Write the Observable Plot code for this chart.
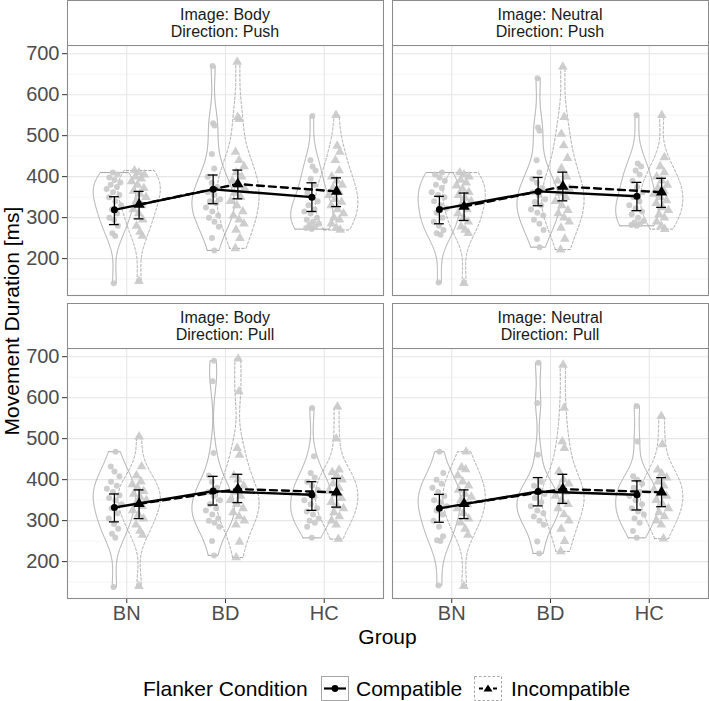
<!DOCTYPE html>
<html><head><meta charset="utf-8">
<script src="https://cdn.jsdelivr.net/npm/d3@7"></script>
<script src="https://cdn.jsdelivr.net/npm/@observablehq/plot@0.6"></script>
<style>
body{margin:0;background:#fff;font-family:"Liberation Sans",Arial,sans-serif;}
#root{position:relative;width:709px;height:701px;overflow:hidden;background:#fff}
.strip{position:absolute;box-sizing:border-box;border:1px solid #8c8c8c;background:#fff;display:flex;align-items:center;justify-content:center;text-align:center;font-size:16px;line-height:17px;color:#1a1a1a}
.pl{position:absolute}
.ylab{position:absolute;left:12px;top:321px;transform:translate(-50%,-50%) rotate(-90deg);font-size:21px;color:#000;white-space:nowrap}
.xlab{position:absolute;left:387.5px;top:637px;transform:translate(-50%,-50%);font-size:21px;color:#000;white-space:nowrap}
.leg{position:absolute;top:689px;transform:translateY(-50%);font-size:21px;color:#000;white-space:nowrap}
.key{position:absolute;top:676px}
</style></head>
<body><div id="root"></div>
<script>
// ---------- data ----------
const groups = ["BN", "BD", "HC"];
const conditions = ["Compatible", "Incompatible"];
const majorTicks = [200, 300, 400, 500, 600, 700];
const minorTicks = [150, 250, 350, 450, 550, 650];

// raw participant values, order: BN-C, BN-I, BD-C, BD-I, HC-C, HC-I
const bodyPushRaw = [
  [140, 255, 262, 280, 295, 300, 310, 320, 330, 340, 350, 355, 362, 370, 375, 380, 386, 392, 398, 405, 410],
  [145, 255, 265, 280, 295, 310, 320, 330, 340, 350, 358, 365, 372, 380, 388, 395, 400, 405, 410, 415],
  [220, 250, 278, 290, 300, 305, 315, 325, 335, 340, 345, 355, 362, 375, 385, 400, 420, 455, 525, 530, 670],
  [225, 250, 270, 285, 295, 305, 315, 330, 340, 350, 360, 372, 380, 390, 400, 410, 425, 440, 460, 540, 545, 680],
  [272, 275, 278, 282, 285, 290, 295, 300, 310, 315, 320, 330, 340, 350, 360, 380, 395, 415, 425, 440, 548],
  [270, 275, 285, 295, 300, 310, 320, 330, 338, 345, 355, 362, 372, 380, 390, 400, 415, 440, 460, 475, 550]
];
const neutralPushRaw = [
  [142, 258, 262, 270, 280, 290, 300, 312, 322, 330, 340, 350, 355, 362, 372, 380, 390, 398, 405, 410],
  [140, 262, 270, 278, 290, 300, 310, 320, 330, 340, 348, 355, 362, 370, 378, 385, 392, 400, 405, 410],
  [228, 248, 270, 285, 295, 305, 312, 320, 330, 338, 345, 355, 362, 372, 385, 395, 410, 440, 512, 520, 640],
  [222, 248, 275, 290, 300, 310, 318, 330, 340, 350, 360, 370, 378, 390, 400, 420, 445, 476, 504, 545, 668],
  [280, 282, 285, 288, 292, 300, 308, 315, 322, 330, 340, 350, 362, 375, 390, 405, 415, 425, 432, 550],
  [272, 280, 290, 300, 308, 318, 325, 335, 342, 350, 358, 365, 372, 380, 390, 400, 410, 425, 447, 550]
];
const bodyPullRaw = [
  [138, 258, 268, 280, 292, 305, 318, 330, 340, 350, 355, 362, 370, 378, 385, 395, 408, 420, 432, 468],
  [140, 265, 275, 290, 305, 315, 325, 335, 342, 350, 358, 365, 372, 380, 388, 395, 410, 432, 505],
  [215, 250, 285, 295, 300, 305, 315, 325, 330, 340, 350, 360, 370, 380, 395, 410, 465, 640, 690],
  [210, 248, 290, 300, 310, 320, 330, 340, 350, 360, 370, 385, 400, 410, 460, 477, 615, 695],
  [258, 285, 295, 300, 305, 315, 322, 330, 340, 350, 358, 365, 375, 385, 395, 405, 416, 457, 575],
  [255, 290, 300, 310, 320, 330, 335, 345, 355, 365, 372, 380, 390, 400, 410, 418, 424, 500, 578]
];
const neutralPullRaw = [
  [142, 250, 252, 262, 285, 300, 315, 325, 335, 345, 350, 360, 370, 380, 390, 400, 416, 468],
  [140, 265, 280, 295, 305, 318, 330, 340, 350, 358, 365, 375, 385, 395, 410, 425, 430, 468],
  [220, 249, 290, 300, 310, 318, 325, 335, 345, 355, 365, 375, 385, 395, 461, 587, 685],
  [225, 250, 280, 300, 315, 330, 340, 350, 360, 370, 380, 390, 400, 420, 477, 493, 575, 680],
  [258, 275, 295, 305, 315, 322, 330, 340, 350, 360, 370, 380, 390, 400, 408, 493, 580],
  [256, 290, 300, 310, 320, 330, 340, 350, 360, 368, 375, 385, 395, 405, 415, 424, 486, 555]
];

// means and error bar limits, order: BN-C, BN-I, BD-C, BD-I, HC-C, HC-I
const bodyPushMean = [319, 332, 369, 382, 350, 364];
const bodyPushLow  = [283, 297, 334, 346, 315, 327];
const bodyPushHigh = [351, 364, 404, 416, 385, 397];
const neutralPushMean = [320, 327, 364, 376, 352, 362];
const neutralPushLow  = [285, 293, 329, 341, 317, 325];
const neutralPushHigh = [352, 360, 398, 411, 386, 396];
const bodyPullMean = [332, 341, 372, 377, 363, 369];
const bodyPullLow  = [297, 305, 338, 344, 325, 333];
const bodyPullHigh = [365, 375, 408, 413, 395, 403];
const neutralPullMean = [330, 341, 371, 377, 363, 369];
const neutralPullLow  = [296, 305, 336, 342, 326, 334];
const neutralPullHigh = [364, 375, 405, 413, 397, 405];

// ---------- helpers ----------
const DODGE = 0.125, VW = 0.215, ADJUST = 1.25, JIT = 0.17;
function bwNrd0(v) {
  const s = d3.deviation(v);
  const sorted = v.slice().sort(d3.ascending);
  const iqr = d3.quantileSorted(sorted, 0.75) - d3.quantileSorted(sorted, 0.25);
  let lo = Math.min(s, iqr / 1.34);
  if (!(lo > 0)) lo = s || 1;
  return 0.9 * lo * Math.pow(v.length, -0.2);
}
function densityAt(v, bw, y) {
  let s = 0;
  for (const x of v) { const u = (y - x) / bw; s += Math.exp(-0.5 * u * u); }
  return s / (v.length * bw * Math.sqrt(2 * Math.PI));
}
function kde(v) {
  const bw = bwNrd0(v) * ADJUST, lo = d3.min(v), hi = d3.max(v), n = 256, out = [];
  for (let k = 0; k < n; k++) {
    const y = lo + (hi - lo) * k / (n - 1);
    out.push({ y, d: densityAt(v, bw, y) });
  }
  return out;
}
function center(i) { const g = Math.floor(i / 2), c = i % 2; return g + 1 + (c ? DODGE : -DODGE); }
function violinRows(raw) {
  const rows = [];
  raw.forEach((v, i) => {
    const dd = kde(v), maxD = d3.max(dd, d => d.d);
    const xc = center(i), c = i % 2;
    const left = dd.map(p => ({ id: i, cond: c, x: xc - VW * p.d / maxD, y: p.y }));
    const right = dd.slice().reverse().map(p => ({ id: i, cond: c, x: xc + VW * p.d / maxD, y: p.y }));
    rows.push(...left, ...right, left[0]);
  });
  return rows;
}
function pointRows(raw) {
  const rows = [];
  raw.forEach((v, i) => {
    const bw = bwNrd0(v) * ADJUST, maxD = d3.max(kde(v), d => d.d);
    v.forEach((y, j) => {
      const f = Math.min(1, densityAt(v, bw, y) / maxD);
      const jit = (((j * 0.6180339887 + i * 0.37) % 1) - 0.5) * JIT * f;
      rows.push({ cond: i % 2, x: center(i) + jit, y });
    });
  });
  return rows;
}
function meanRows(mean, low, high) {
  return mean.map((m, i) => ({ cond: i % 2, x: center(i), mean: m, low: low[i], high: high[i] }));
}

function panel(raw, mean, low, high, showY, showX) {
  const vr = violinRows(raw), pr = pointRows(raw), mr = meanRows(mean, low, high);
  const ml = showY ? 67 : 0;
  return Plot.plot({
    width: 316 + ml, height: 250 + (showX ? 40 : 0),
    marginLeft: ml, marginRight: 0, marginTop: 0, marginBottom: showX ? 40 : 0,
    style: { background: "transparent", overflow: "visible", fontFamily: "Liberation Sans, Arial, sans-serif", fontSize: "20px", color: "#4d4d4d" },
    x: { domain: [0.4, 3.6], axis: null },
    y: { domain: [110, 720], axis: null },
    marks: [
      Plot.ruleY(minorTicks, { stroke: "#f0f0f0", strokeWidth: 0.7 }),
      Plot.ruleY(majorTicks, { stroke: "#e6e6e6", strokeWidth: 1.1 }),
      Plot.ruleX([1, 2, 3], { stroke: "#e6e6e6", strokeWidth: 1.1 }),
      Plot.line(vr.filter(d => d.cond === 0), { x: "x", y: "y", z: "id", stroke: "#a6a6a6", strokeWidth: 1, curve: "linear" }),
      Plot.line(vr.filter(d => d.cond === 1), { x: "x", y: "y", z: "id", stroke: "#a6a6a6", strokeWidth: 1, strokeDasharray: "2.5,2", curve: "linear" }),
      Plot.dot(pr.filter(d => d.cond === 0), { x: "x", y: "y", r: 3, fill: "#c9c9c9", fillOpacity: 0.9 }),
      Plot.dot(pr.filter(d => d.cond === 1), { x: "x", y: "y", r: 3.6, symbol: "triangle", fill: "#c9c9c9", fillOpacity: 0.9 }),
      Plot.line(mr.filter(d => d.cond === 0), { x: "x", y: "mean", stroke: "#000", strokeWidth: 2.4 }),
      Plot.line(mr.filter(d => d.cond === 1), { x: "x", y: "mean", stroke: "#000", strokeWidth: 2.4, strokeDasharray: "7,5" }),
      Plot.ruleX(mr, { x: "x", y1: "low", y2: "high", stroke: "#000", strokeWidth: 1.3 }),
      Plot.ruleY(mr, { y: "low", x1: d => d.x - 0.05, x2: d => d.x + 0.05, stroke: "#000", strokeWidth: 1.3 }),
      Plot.ruleY(mr, { y: "high", x1: d => d.x - 0.05, x2: d => d.x + 0.05, stroke: "#000", strokeWidth: 1.3 }),
      Plot.dot(mr.filter(d => d.cond === 0), { x: "x", y: "mean", r: 3.5, fill: "#000" }),
      Plot.dot(mr.filter(d => d.cond === 1), { x: "x", y: "mean", r: 4.2, symbol: "triangle", fill: "#000" }),
      showY ? Plot.axisY(majorTicks, { tickSize: 5, tickPadding: 3, label: null, fontSize: 20, fill: "#4d4d4d", stroke: "#333" }) : null,
      showX ? Plot.axisX([1, 2, 3], { tickSize: 5, tickPadding: 2, label: null, tickFormat: d => groups[d - 1], fontSize: 20, fill: "#4d4d4d", stroke: "#333" }) : null,
      Plot.frame({ stroke: "#8c8c8c", strokeWidth: 1.1 })
    ]
  });
}

const root = document.getElementById("root");
function place(el, left, top) {
  const w = document.createElement("div"); w.className = "pl";
  w.style.left = left + "px"; w.style.top = top + "px"; w.appendChild(el); root.appendChild(w);
}
function strip(left, top, a, b) {
  const s = document.createElement("div"); s.className = "strip";
  s.style.left = left + "px"; s.style.top = top + "px"; s.style.width = "317px"; s.style.height = "46px";
  s.innerHTML = a + "<br>" + b; root.appendChild(s);
}

place(panel(bodyPushRaw, bodyPushMean, bodyPushLow, bodyPushHigh, true, false), 0, 45);
place(panel(neutralPushRaw, neutralPushMean, neutralPushLow, neutralPushHigh, false, false), 392, 45);
place(panel(bodyPullRaw, bodyPullMean, bodyPullLow, bodyPullHigh, true, true), 0, 348);
place(panel(neutralPullRaw, neutralPullMean, neutralPullLow, neutralPullHigh, false, true), 392, 348);

strip(66.5, 0, "Image: Body", "Direction: Push");
strip(391.5, 0, "Image: Neutral", "Direction: Push");
strip(66.5, 303, "Image: Body", "Direction: Pull");
strip(391.5, 303, "Image: Neutral", "Direction: Pull");

const yl = document.createElement("div"); yl.className = "ylab"; yl.textContent = "Movement Duration [ms]"; root.appendChild(yl);
const xl = document.createElement("div"); xl.className = "xlab"; xl.textContent = "Group"; root.appendChild(xl);

// legend
function legText(t, left) { const d = document.createElement("div"); d.className = "leg"; d.style.left = left + "px"; d.textContent = t; root.appendChild(d); }
legText("Flanker Condition", 143);
legText(conditions[0], 356);
legText(conditions[1], 511);
function key(left, dashed) {
  const ns = "http://www.w3.org/2000/svg";
  const svg = document.createElementNS(ns, "svg");
  svg.setAttribute("width", 28); svg.setAttribute("height", 25);
  svg.setAttribute("class", "key"); svg.style.left = left + "px";
  svg.innerHTML = dashed
    ? '<rect x="0.5" y="0.5" width="27" height="24" fill="#fff" stroke="#a6a6a6" stroke-dasharray="2.5,2"/>' +
      '<line x1="5" x2="23" y1="12.5" y2="12.5" stroke="#000" stroke-width="2.2" stroke-dasharray="4,3"/>' +
      '<path d="M14,8.5 L18.5,15.5 L9.5,15.5 Z" fill="#000"/>'
    : '<rect x="0.5" y="0.5" width="27" height="24" fill="#fff" stroke="#a6a6a6"/>' +
      '<line x1="3" x2="25" y1="12.5" y2="12.5" stroke="#000" stroke-width="2.2"/>' +
      '<circle cx="14" cy="12.5" r="3.4" fill="#000"/>';
  root.appendChild(svg);
}
key(321, false);
key(474, true);
</script></body></html>
